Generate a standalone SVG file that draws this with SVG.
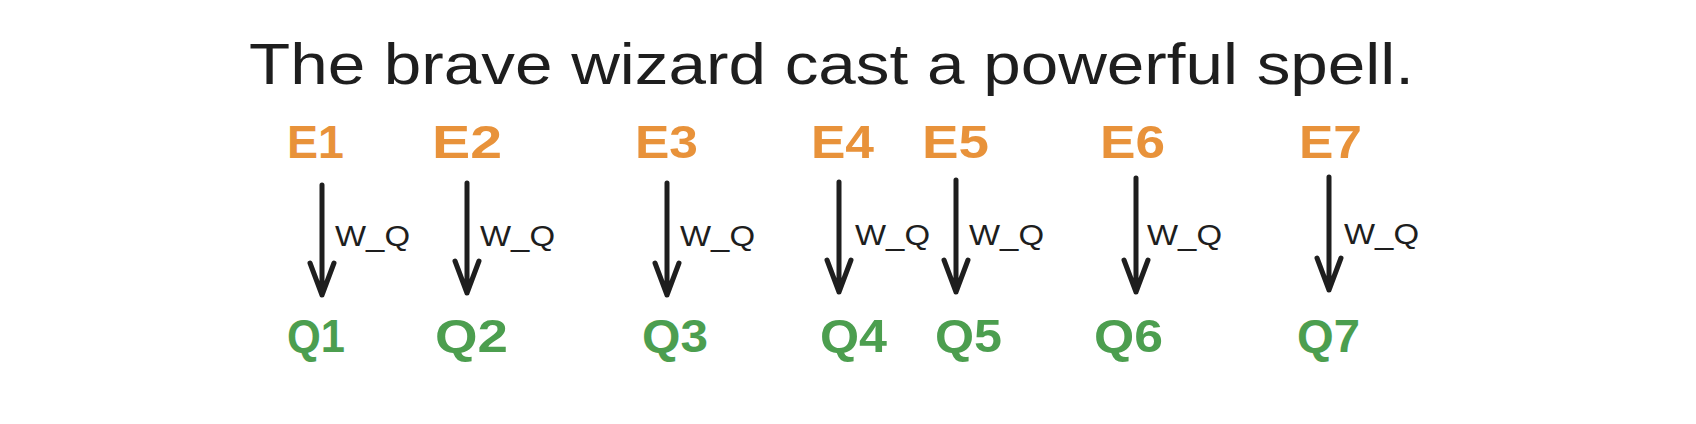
<svg xmlns="http://www.w3.org/2000/svg" width="1696" height="424" viewBox="0 0 1696 424">
<defs>
<style>
.title{font-family:"Liberation Sans","DejaVu Sans",sans-serif;font-size:58px;fill:#1e1e1e}
.e{font-family:"Liberation Sans","DejaVu Sans",sans-serif;font-size:46px;font-weight:bold;fill:#e8923a}
.q{font-family:"Liberation Sans","DejaVu Sans",sans-serif;font-size:46px;font-weight:bold;fill:#4c9e4f}
.w{font-family:"Liberation Sans","DejaVu Sans",sans-serif;font-size:30px;fill:#1e1e1e}
.arr{stroke:#1e1e1e;stroke-width:5;fill:none;stroke-linecap:round;stroke-linejoin:round}
</style>
</defs>
<rect width="1696" height="424" fill="#ffffff"/>
<g id="title"><text class="title" x="249" y="84" textLength="1165" lengthAdjust="spacingAndGlyphs">The brave wizard cast a powerful spell.</text></g>
<g id="E1"><text class="e" x="287" y="158" textLength="57" lengthAdjust="spacingAndGlyphs">E1</text></g>
<g id="E2"><text class="e" x="432" y="158" textLength="70" lengthAdjust="spacingAndGlyphs">E2</text></g>
<g id="E3"><text class="e" x="635" y="158" textLength="63" lengthAdjust="spacingAndGlyphs">E3</text></g>
<g id="E4"><text class="e" x="811" y="158" textLength="63" lengthAdjust="spacingAndGlyphs">E4</text></g>
<g id="E5"><text class="e" x="922" y="158" textLength="67" lengthAdjust="spacingAndGlyphs">E5</text></g>
<g id="E6"><text class="e" x="1100" y="158" textLength="65" lengthAdjust="spacingAndGlyphs">E6</text></g>
<g id="E7"><text class="e" x="1299" y="158" textLength="63" lengthAdjust="spacingAndGlyphs">E7</text></g>
<g id="Q1"><text class="q" x="287" y="352" textLength="58" lengthAdjust="spacingAndGlyphs">Q1</text></g>
<g id="Q2"><text class="q" x="435" y="352" textLength="73" lengthAdjust="spacingAndGlyphs">Q2</text></g>
<g id="Q3"><text class="q" x="642" y="352" textLength="66" lengthAdjust="spacingAndGlyphs">Q3</text></g>
<g id="Q4"><text class="q" x="820" y="352" textLength="67" lengthAdjust="spacingAndGlyphs">Q4</text></g>
<g id="Q5"><text class="q" x="935" y="352" textLength="67" lengthAdjust="spacingAndGlyphs">Q5</text></g>
<g id="Q6"><text class="q" x="1094" y="352" textLength="69" lengthAdjust="spacingAndGlyphs">Q6</text></g>
<g id="Q7"><text class="q" x="1297" y="352" textLength="63" lengthAdjust="spacingAndGlyphs">Q7</text></g>
<g id="connectors">
<path class="arr" d="M322 185 V295 M310 263 L322 295 L334 263"/>
<path class="arr" d="M467 183 V293 M455 261 L467 293 L479 261"/>
<path class="arr" d="M667 183 V295 M655 263 L667 295 L679 263"/>
<path class="arr" d="M839 182 V292 M827 260 L839 292 L851 260"/>
<path class="arr" d="M956 180 V292 M944 260 L956 292 L968 260"/>
<path class="arr" d="M1136 178 V292 M1124 260 L1136 292 L1148 260"/>
<path class="arr" d="M1329 177 V290 M1317 258 L1329 290 L1341 258"/>
<text class="w" x="335" y="246" textLength="75" lengthAdjust="spacingAndGlyphs">W_Q</text>
<text class="w" x="480" y="246" textLength="75" lengthAdjust="spacingAndGlyphs">W_Q</text>
<text class="w" x="680" y="246" textLength="75" lengthAdjust="spacingAndGlyphs">W_Q</text>
<text class="w" x="855" y="245" textLength="75" lengthAdjust="spacingAndGlyphs">W_Q</text>
<text class="w" x="969" y="245" textLength="75" lengthAdjust="spacingAndGlyphs">W_Q</text>
<text class="w" x="1147" y="245" textLength="75" lengthAdjust="spacingAndGlyphs">W_Q</text>
<text class="w" x="1344" y="244" textLength="75" lengthAdjust="spacingAndGlyphs">W_Q</text>
</g>
</svg>
